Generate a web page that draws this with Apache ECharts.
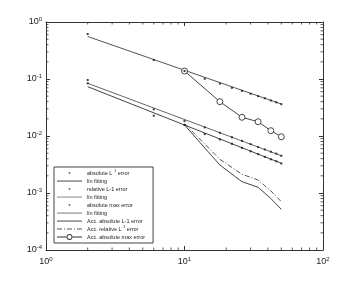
<!DOCTYPE html>
<html><head><meta charset="utf-8">
<script src="https://cdn.jsdelivr.net/npm/echarts@6/dist/echarts.min.js"></script>
<style>html,body{margin:0;padding:0;background:#fff}#c{width:357px;height:282px}</style>
</head><body><div id="c"></div>
<script>
// ---- data ----
const xDots = [2, 6, 10, 14, 18, 22, 26, 30, 34, 38, 42, 46, 50];
const absL1 = [0.084, 0.0227, 0.0156, 0.0108, 0.0087, 0.0073, 0.0062, 0.0054, 0.0048, 0.0043, 0.0039, 0.0036, 0.0033];
const relL1 = [0.096, 0.0294, 0.0183, 0.0142, 0.0114, 0.0095, 0.0082, 0.0072, 0.0064, 0.0058, 0.0053, 0.0049, 0.0045];
const absMax = [0.615, 0.215, 0.138, 0.101, 0.083, 0.070, 0.062, 0.055, 0.050, 0.046, 0.042, 0.039, 0.0362];
const fitX = [2, 50];
const absL1Fit = [0.0733, 0.00332];
const relL1Fit = [0.0841, 0.00451];
const absMaxFit = [0.557, 0.0364];
const accX = [10, 18, 26, 34, 42, 50];
const accAbsL1 = [0.0156, 0.0031, 0.00158, 0.00126, 0.00080, 0.000518];
const accRelL1 = [0.0165, 0.0039, 0.00213, 0.00169, 0.00109, 0.000704];
const accAbsMax = [0.138, 0.040, 0.0213, 0.0178, 0.0124, 0.0097];
const xTickExps = [0, 1, 2];
const yTickExps = [-4, -3, -2, -1, 0];
const seriesNames = ['absL1', 'fit1', 'relL1', 'fit2', 'absMax', 'fit3', 'accAbsL1', 'accRelL1', 'accAbsMax'];
const legendLabels = {
  absL1: 'absolute L {s|1} error',
  fit1: 'lin fitting',
  relL1: 'relative L-1 error',
  fit2: 'lin fitting',
  absMax: 'absolute max error',
  fit3: 'lin fitting',
  accAbsL1: 'Acc. absolute L-1 error',
  accRelL1: 'Acc. relative L {s|1} error',
  accAbsMax: 'Acc. absolute max error'
};
// minor tick positions (log axis decorations)
const minorMult = [2, 3, 4, 5, 6, 7, 8, 9];
const xDecades = [1, 10];
const yDecades = [1e-4, 1e-3, 1e-2, 1e-1];

const pairs = (xs, ys) => xs.map((x, i) => [x, ys[i]]);
const xMinor = [].concat(...xDecades.map(d => minorMult.map(m => m * d)));
const yMinor = [].concat(...yDecades.map(d => minorMult.map(m => m * d)));

const FONT = "'Liberation Sans Narrow','Arial Narrow','Liberation Sans',Arial,sans-serif";
const AX = '#333';
const LC = '#444';
const labelRich = {
  b: { fontSize: 9, color: '#222', fontFamily: FONT },
  s: { fontSize: 6, color: '#222', fontFamily: FONT, padding: [0, 0, 6, 0] }
};
const expLabel = v => {
  const e = Math.round(Math.log10(v));
  return '{b|10}{s|' + e + '}';
};

// legend icons (bounding box 25 x 8)
const BOX = 'M0,0M25,8';
const icons = {
  dot: 'path://' + BOX + 'M11.7,3.2h1.6v1.6h-1.6z',
  line: 'path://' + BOX + 'M0,3.6h25v0.9h-25z',
  dashdot: 'path://' + BOX + 'M0,3.6h5v0.9h-5zM7,3.6h1v0.9h-1zM10,3.6h5v0.9h-5zM17,3.6h1v0.9h-1zM20,3.6h5v0.9h-5z',
  circle: 'path://' + BOX + 'M0,3.6h9.6v0.9h-9.6zM15.4,3.6h9.6v0.9h-9.6z' +
    'M9.6,4a2.9,2.9 0 1,0 5.8,0a2.9,2.9 0 1,0 -5.8,0z' +
    'M10.4,4a2.1,2.1 0 1,1 4.2,0a2.1,2.1 0 1,1 -4.2,0z'
};
const legendIcon = { absL1: 'dot', fit1: 'line', relL1: 'dot', fit2: 'line', absMax: 'dot', fit3: 'line',
  accAbsL1: 'line', accRelL1: 'dashdot', accAbsMax: 'circle' };
const legendColor = { fit2: '#777', fit3: '#666', accRelL1: '#555' };

const chart = echarts.init(document.getElementById('c'), null, { renderer: 'canvas' });

const baseAxis = {
  type: 'log', logBase: 10,
  axisLine: { show: true, onZero: false, lineStyle: { color: AX, width: 1 } },
  axisTick: { show: true, inside: true, length: 4, lineStyle: { color: AX } },
  splitLine: { show: false },
  minorTick: { show: false }
};

const tickSeries = {
  type: 'custom', silent: true, z: 1, clip: false,
  data: xMinor.map(v => [v, 1]),
  renderItem: (params, api) => {
    const v = api.value(0);
    const b = api.coord([v, 1e-4]);
    const t = api.coord([v, 1]);
    return { type: 'group', children: [
      { type: 'line', shape: { x1: b[0], y1: b[1], x2: b[0], y2: b[1] - 2.5 }, style: { stroke: AX, lineWidth: 0.8 } },
      { type: 'line', shape: { x1: t[0], y1: t[1], x2: t[0], y2: t[1] + 2.5 }, style: { stroke: AX, lineWidth: 0.8 } }
    ]};
  }
};
const yTickSeries = {
  type: 'custom', silent: true, z: 1, clip: false,
  data: yMinor.map(v => [1, v]),
  renderItem: (params, api) => {
    const v = api.value(1);
    const l = api.coord([1, v]);
    const r = api.coord([100, v]);
    return { type: 'group', children: [
      { type: 'line', shape: { x1: l[0], y1: l[1], x2: l[0] + 2.5, y2: l[1] }, style: { stroke: AX, lineWidth: 0.8 } },
      { type: 'line', shape: { x1: r[0], y1: r[1], x2: r[0] - 2.5, y2: r[1] }, style: { stroke: AX, lineWidth: 0.8 } }
    ]};
  }
};

const dotSeries = (name, ys) => ({
  name, type: 'scatter', data: pairs(xDots, ys), symbol: 'rect', symbolSize: 2,
  itemStyle: { color: '#111' }, z: 5
});
const lineSeries = (name, xs, ys, extra) => Object.assign({
  name, type: 'line', data: pairs(xs, ys), symbol: 'none', showSymbol: false,
  lineStyle: { color: LC, width: 1 }, itemStyle: { color: LC }, z: 4
}, extra || {});

const option = {
  animation: false,
  backgroundColor: '#fff',
  grid: { left: 46, right: 34, top: 22, bottom: 32 },
  xAxis: [
    Object.assign({}, baseAxis, {
      min: 1, max: 100, position: 'bottom',
      axisLabel: { show: true, margin: 6, formatter: expLabel, rich: labelRich }
    }),
    Object.assign({}, baseAxis, {
      min: 1, max: 100, position: 'top', axisLabel: { show: false }
    })
  ],
  yAxis: [
    Object.assign({}, baseAxis, {
      min: 1e-4, max: 1, position: 'left',
      axisLabel: { show: true, margin: 4, formatter: expLabel, rich: labelRich }
    }),
    Object.assign({}, baseAxis, {
      min: 1e-4, max: 1, position: 'right', axisLabel: { show: false }
    })
  ],
  legend: {
    orient: 'vertical', left: 54, top: 167,
    backgroundColor: '#fff', borderColor: '#444', borderWidth: 1, borderRadius: 0,
    padding: [2, 8, 2, 3],
    itemWidth: 25, itemHeight: 8, itemGap: 0,
    selectedMode: false,
    textStyle: { fontSize: 5.5, color: '#222', fontFamily: FONT, lineHeight: 8,
      rich: { s: { fontSize: 4, color: '#222', fontFamily: FONT, padding: [0, 0, 4, 0] } } },
    formatter: name => legendLabels[name],
    data: seriesNames.map(n => ({
      name: n, icon: icons[legendIcon[n]],
      itemStyle: { color: legendColor[n] || '#333', borderWidth: 0 }
    }))
  },
  series: [
    dotSeries('absL1', absL1),
    lineSeries('fit1', fitX, absL1Fit),
    dotSeries('relL1', relL1),
    lineSeries('fit2', fitX, relL1Fit, { lineStyle: { color: '#666', width: 1 }, itemStyle: { color: '#666' } }),
    dotSeries('absMax', absMax),
    lineSeries('fit3', fitX, absMaxFit, { lineStyle: { color: '#555', width: 1 }, itemStyle: { color: '#555' } }),
    lineSeries('accAbsL1', accX, accAbsL1),
    lineSeries('accRelL1', accX, accRelL1, { lineStyle: { color: '#555', width: 1, type: [5, 2, 1, 2] }, itemStyle: { color: '#555' } }),
    lineSeries('accAbsMax', accX, accAbsMax, {
      symbol: 'circle', showSymbol: true, symbolSize: 6,
      itemStyle: { color: '#fff', borderColor: '#333', borderWidth: 0.9 },
      lineStyle: { color: LC, width: 1 }
    }),
    tickSeries,
    yTickSeries
  ]
};
chart.setOption(option);
</script>
</body></html>
